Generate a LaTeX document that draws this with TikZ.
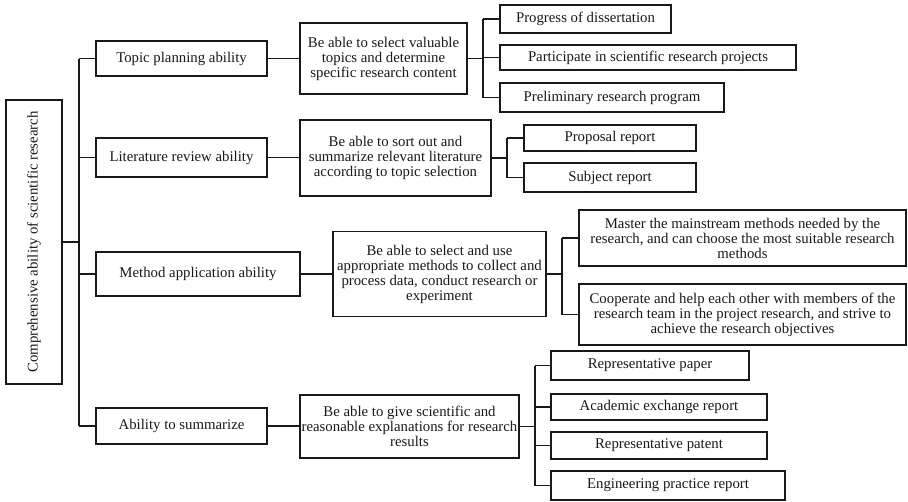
\documentclass[tikz,border=0pt]{standalone}
\usepackage{fontspec}
\setmainfont{Liberation Serif}
\begin{document}
\begin{tikzpicture}[x=1pt,y=-1pt,
  box/.style={draw=black!90, line width=1.9pt, fill=white, inner sep=0pt, align=center,
    font=\fontsize{14.8}{15}\selectfont, text=black!90},
  conn/.style={draw=black!90, line width=1.9pt}]
\useasboundingbox[fill=white] (0,0) rectangle (908,501);
% root
\node[box, minimum width=56pt, minimum height=284pt] (root) at (34,242) {};
\node[rotate=90, inner sep=0pt, font=\fontsize{14.8}{15}\selectfont, text=black!90] (roottext) at (root.center) {Comprehensive ability of scientific research};
% level 1
\node[box, minimum width=171pt, minimum height=35pt] (t1) at (181.5,58.5) {Topic planning ability};
\node[box, minimum width=171pt, minimum height=39pt] (l1) at (181.5,157.5) {Literature review ability};
\node[box, minimum width=204pt, minimum height=44pt] (m1) at (198,274) {Method application ability};
\node[box, minimum width=171pt, minimum height=36pt] (s1) at (181.5,426) {Ability to summarize};
% level 2
\node[box, minimum width=167pt, minimum height=71pt] (t2) at (383.5,58.5) {Be able to select valuable\\topics and determine\\specific research content};
\node[box, minimum width=191pt, minimum height=76pt] (l2) at (395.5,158) {Be able to sort out and\\summarize relevant literature\\according to topic selection};
\node[box, minimum width=213pt, minimum height=85pt] (m2) at (439.5,274) {Be able to select and use\\appropriate methods to collect and\\process data, conduct research or\\experiment};
\node[box, minimum width=219pt, minimum height=63pt] (s2) at (409.5,426.5) {Be able to give scientific and\\reasonable explanations for research\\results};
% level 3
\node[box, minimum width=171pt, minimum height=28pt] (t3a) at (585.5,19) {Progress of dissertation};
\node[box, minimum width=296pt, minimum height=25pt] (t3b) at (648,57.5) {Participate in scientific research projects};
\node[box, minimum width=224pt, minimum height=29pt] (t3c) at (612,97.5) {Preliminary research program};
\node[box, minimum width=172pt, minimum height=26pt] (l3a) at (610,138) {Proposal report};
\node[box, minimum width=172pt, minimum height=29pt] (l3b) at (610,177.5) {Subject report};
\node[box, minimum width=327pt, minimum height=56pt] (m3a) at (742.5,238) {Master the mainstream methods needed by the\\research, and can choose the most suitable research\\methods};
\node[box, minimum width=327pt, minimum height=61pt] (m3b) at (742.5,314.5) {Cooperate and help each other with members of the\\research team in the project research, and strive to\\achieve the research objectives};
\node[box, minimum width=198pt, minimum height=29pt] (s3a) at (650,365.5) {Representative paper};
\node[box, minimum width=216pt, minimum height=26pt] (s3b) at (659,407) {Academic exchange report};
\node[box, minimum width=216pt, minimum height=27pt] (s3c) at (659,445.5) {Representative patent};
\node[box, minimum width=234pt, minimum height=29pt] (s3d) at (668,485.5) {Engineering practice report};
% spines
\coordinate (rs) at (79,242);
\coordinate (ts) at (483,58.5);
\coordinate (ls) at (507,158);
\coordinate (ms) at (562,274);
\coordinate (ss) at (535,426.5);
% root connectors
\draw[conn] (root.east) -- (rs);
\draw[conn] (rs|-t1.west) -- (rs|-s1.west);
\foreach \n in {t1,l1,m1,s1} \draw[conn] (rs|-\n.west) -- (\n.west);
% level1 to level2
\draw[conn] (t1.east) -- (t2.west|-t1.east);
\draw[conn] (l1.east) -- (l2.west|-l1.east);
\draw[conn] (m1.east) -- (m2.west|-m1.east);
\draw[conn] (s1.east) -- (s2.west|-s1.east);
% topic children
\draw[conn] (t2.east|-ts) -- (ts);
\draw[conn] (ts|-t3a.west) -- (ts|-t3c.west);
\foreach \n in {t3a,t3b,t3c} \draw[conn] (ts|-\n.west) -- (\n.west);
% literature children
\draw[conn] (l2.east|-ls) -- (ls);
\draw[conn] (ls|-l3a.west) -- (ls|-l3b.west);
\foreach \n in {l3a,l3b} \draw[conn] (ls|-\n.west) -- (\n.west);
% method children
\draw[conn] (m2.east|-ms) -- (ms);
\draw[conn] (ms|-m3a.west) -- (ms|-m3b.west);
\foreach \n in {m3a,m3b} \draw[conn] (ms|-\n.west) -- (\n.west);
% summarize children
\draw[conn] (s2.east|-ss) -- (ss);
\draw[conn] (ss|-s3a.west) -- (ss|-s3d.west);
\foreach \n in {s3a,s3b,s3c,s3d} \draw[conn] (ss|-\n.west) -- (\n.west);
\end{tikzpicture}
\end{document}
